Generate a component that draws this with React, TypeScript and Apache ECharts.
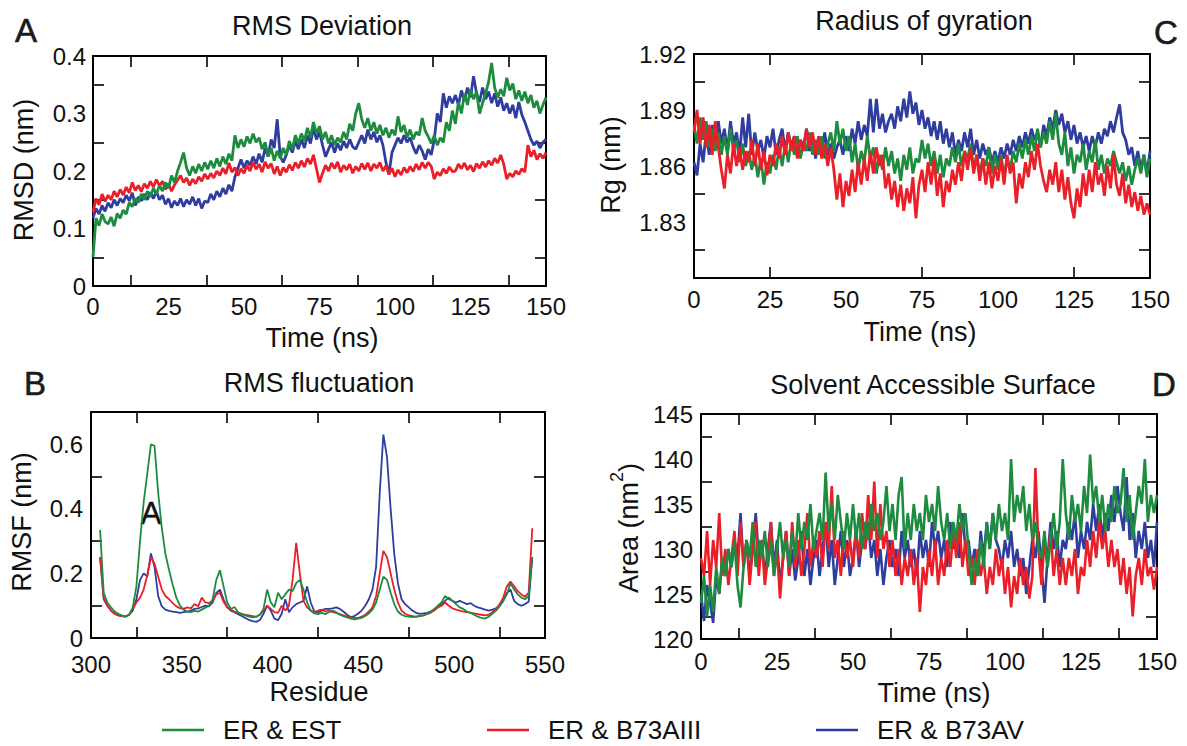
import React, { useEffect, useRef } from "react";
import * as echarts from "echarts";

const FONT = '"Liberation Sans", Arial, Helvetica, sans-serif';
const GREEN = "#1e8c3f";
const RED = "#ea1f27";
const BLUE = "#2e3d9e";
const NAME_EST = "ER & EST";
const NAME_AIII = "ER & B73AIII";
const NAME_AV = "ER & B73AV";

// sampling grids (1 ns frames; every 2nd residue)
const TIME_NS = Array.from({ length: 151 }, (_, i) => i);
const RESIDUES = Array.from({ length: 120 }, (_, i) => 305 + 2 * i);

// ---- A: RMS Deviation (nm)
const RMSD_EST = [
  0.050, 0.118, 0.105, 0.125, 0.112, 0.108, 0.120, 0.104, 0.126, 0.118,
  0.132, 0.125, 0.145, 0.138, 0.152, 0.145, 0.160, 0.150, 0.165, 0.155,
  0.170, 0.160, 0.175, 0.165, 0.180, 0.170, 0.192, 0.180, 0.200, 0.215,
  0.232, 0.205, 0.192, 0.208, 0.196, 0.212, 0.200, 0.215, 0.203, 0.218,
  0.205, 0.222, 0.208, 0.225, 0.212, 0.230, 0.218, 0.262, 0.240, 0.255,
  0.242, 0.260, 0.248, 0.265, 0.250, 0.258, 0.238, 0.250, 0.225, 0.240,
  0.218, 0.235, 0.222, 0.240, 0.228, 0.252, 0.238, 0.262, 0.248, 0.265,
  0.252, 0.275, 0.258, 0.285, 0.265, 0.278, 0.255, 0.268, 0.248, 0.262,
  0.245, 0.258, 0.250, 0.268, 0.255, 0.282, 0.270, 0.300, 0.318, 0.290,
  0.275, 0.292, 0.270, 0.285, 0.265, 0.280, 0.262, 0.275, 0.258, 0.272,
  0.262, 0.295, 0.268, 0.280, 0.258, 0.272, 0.255, 0.268, 0.262, 0.292,
  0.270, 0.260, 0.248, 0.262, 0.245, 0.258, 0.250, 0.285, 0.270, 0.305,
  0.282, 0.320, 0.300, 0.335, 0.315, 0.342, 0.325, 0.338, 0.300, 0.318,
  0.335, 0.355, 0.388, 0.345, 0.328, 0.342, 0.330, 0.362, 0.340, 0.352,
  0.325, 0.340, 0.322, 0.338, 0.318, 0.332, 0.310, 0.322, 0.300, 0.315,
  0.328,
];
const RMSD_AIII = [
  0.128, 0.152, 0.141, 0.160, 0.147, 0.158, 0.150, 0.165, 0.155, 0.168,
  0.158, 0.172, 0.162, 0.180, 0.166, 0.175, 0.164, 0.178, 0.170, 0.182,
  0.172, 0.185, 0.174, 0.182, 0.168, 0.178, 0.165, 0.176, 0.184, 0.192,
  0.180, 0.188, 0.175, 0.186, 0.178, 0.190, 0.182, 0.195, 0.186, 0.196,
  0.188, 0.200, 0.192, 0.205, 0.195, 0.214, 0.198, 0.206, 0.192, 0.204,
  0.196, 0.210, 0.200, 0.215, 0.203, 0.212, 0.198, 0.216, 0.205, 0.213,
  0.195, 0.208, 0.192, 0.206, 0.198, 0.211, 0.201, 0.215, 0.205, 0.218,
  0.207, 0.222, 0.212, 0.228, 0.204, 0.180, 0.196, 0.210, 0.200, 0.214,
  0.204, 0.216, 0.198, 0.210, 0.202, 0.212, 0.196, 0.208, 0.200, 0.213,
  0.203, 0.214, 0.200, 0.212, 0.205, 0.215, 0.200, 0.209, 0.194, 0.205,
  0.190, 0.202, 0.193, 0.206, 0.197, 0.208, 0.199, 0.212, 0.202, 0.215,
  0.205, 0.215, 0.208, 0.186, 0.198, 0.192, 0.204, 0.196, 0.207, 0.199,
  0.200, 0.212, 0.204, 0.214, 0.202, 0.210, 0.199, 0.213, 0.205, 0.216,
  0.207, 0.218, 0.210, 0.222, 0.214, 0.228, 0.212, 0.186, 0.196, 0.190,
  0.200, 0.194, 0.204, 0.198, 0.245, 0.225, 0.236, 0.220, 0.230, 0.222,
  0.232,
];
const RMSD_AV = [
  0.118, 0.135, 0.125, 0.140, 0.130, 0.145, 0.136, 0.150, 0.140, 0.152,
  0.145, 0.158, 0.148, 0.162, 0.140, 0.155, 0.148, 0.160, 0.150, 0.163,
  0.152, 0.165, 0.150, 0.158, 0.142, 0.152, 0.136, 0.148, 0.140, 0.152,
  0.138, 0.150, 0.142, 0.155, 0.140, 0.152, 0.135, 0.148, 0.145, 0.160,
  0.150, 0.165, 0.155, 0.170, 0.160, 0.176, 0.165, 0.190, 0.205, 0.220,
  0.205, 0.218, 0.210, 0.225, 0.212, 0.230, 0.215, 0.240, 0.225, 0.255,
  0.240, 0.290, 0.225, 0.215, 0.228, 0.245, 0.232, 0.252, 0.238, 0.255,
  0.240, 0.262, 0.248, 0.275, 0.255, 0.268, 0.245, 0.225, 0.238, 0.250,
  0.232, 0.248, 0.236, 0.252, 0.240, 0.255, 0.242, 0.238, 0.250, 0.262,
  0.248, 0.272, 0.255, 0.268, 0.250, 0.262, 0.245, 0.215, 0.195, 0.232,
  0.245, 0.258, 0.248, 0.262, 0.250, 0.258, 0.242, 0.230, 0.245, 0.235,
  0.220, 0.238, 0.228, 0.255, 0.300, 0.285, 0.335, 0.310, 0.330, 0.318,
  0.332, 0.315, 0.340, 0.322, 0.345, 0.328, 0.365, 0.335, 0.320, 0.345,
  0.325, 0.338, 0.318, 0.335, 0.312, 0.328, 0.305, 0.318, 0.300, 0.315,
  0.292, 0.320, 0.298, 0.285, 0.270, 0.255, 0.245, 0.252, 0.240, 0.250,
  0.255,
];

// ---- C: Radius of gyration (nm)
const RG_EST = [
  1.882, 1.872, 1.886, 1.874, 1.884, 1.870, 1.880, 1.868, 1.878, 1.866,
  1.876, 1.866, 1.880, 1.868, 1.874, 1.862, 1.872, 1.860, 1.868, 1.858,
  1.866, 1.854, 1.864, 1.850, 1.862, 1.856, 1.866, 1.858, 1.870, 1.860,
  1.872, 1.862, 1.874, 1.866, 1.876, 1.864, 1.872, 1.868, 1.878, 1.866,
  1.874, 1.866, 1.876, 1.864, 1.872, 1.878, 1.868, 1.884, 1.872, 1.880,
  1.868, 1.876, 1.862, 1.872, 1.858, 1.868, 1.862, 1.876, 1.864, 1.870,
  1.856, 1.866, 1.858, 1.870, 1.860, 1.868, 1.856, 1.864, 1.852, 1.866,
  1.858, 1.870, 1.856, 1.864, 1.862, 1.874, 1.864, 1.872, 1.860, 1.868,
  1.856, 1.866, 1.854, 1.864, 1.860, 1.870, 1.862, 1.872, 1.860, 1.868,
  1.864, 1.872, 1.858, 1.866, 1.856, 1.864, 1.860, 1.870, 1.856, 1.866,
  1.858, 1.866, 1.854, 1.864, 1.858, 1.868, 1.862, 1.872, 1.864, 1.874,
  1.866, 1.876, 1.868, 1.880, 1.870, 1.878, 1.872, 1.884, 1.874, 1.888,
  1.872, 1.866, 1.878, 1.860, 1.870, 1.856, 1.866, 1.862, 1.872, 1.858,
  1.868, 1.862, 1.874, 1.858, 1.866, 1.856, 1.864, 1.860, 1.868, 1.862,
  1.856, 1.862, 1.852, 1.860, 1.850, 1.858, 1.864, 1.856, 1.866, 1.854,
  1.864,
];
const RG_AIII = [
  1.878, 1.890, 1.872, 1.886, 1.870, 1.882, 1.866, 1.884, 1.870, 1.858,
  1.848, 1.866, 1.856, 1.872, 1.860, 1.870, 1.858, 1.868, 1.862, 1.874,
  1.860, 1.872, 1.858, 1.868, 1.855, 1.866, 1.860, 1.872, 1.864, 1.876,
  1.866, 1.878, 1.868, 1.876, 1.864, 1.874, 1.868, 1.880, 1.870, 1.878,
  1.866, 1.876, 1.864, 1.872, 1.860, 1.870, 1.858, 1.842, 1.856, 1.838,
  1.852, 1.844, 1.858, 1.846, 1.862, 1.850, 1.864, 1.852, 1.868, 1.856,
  1.870, 1.860, 1.866, 1.848, 1.856, 1.842, 1.852, 1.838, 1.850, 1.836,
  1.848, 1.840, 1.854, 1.832, 1.850, 1.858, 1.846, 1.862, 1.850, 1.864,
  1.844, 1.856, 1.838, 1.852, 1.846, 1.858, 1.850, 1.862, 1.852, 1.868,
  1.858, 1.870, 1.856, 1.866, 1.852, 1.864, 1.850, 1.862, 1.848, 1.860,
  1.852, 1.864, 1.850, 1.866, 1.856, 1.862, 1.840, 1.856, 1.848, 1.862,
  1.854, 1.868, 1.858, 1.872, 1.860, 1.852, 1.846, 1.858, 1.850, 1.862,
  1.846, 1.858, 1.842, 1.854, 1.840, 1.832, 1.848, 1.838, 1.856, 1.844,
  1.858, 1.846, 1.862, 1.850, 1.856, 1.844, 1.860, 1.848, 1.866, 1.850,
  1.844, 1.856, 1.840, 1.850, 1.838, 1.846, 1.836, 1.844, 1.834, 1.840,
  1.834,
];
const RG_AV = [
  1.862, 1.855, 1.872, 1.862, 1.878, 1.866, 1.882, 1.870, 1.884, 1.872,
  1.880, 1.868, 1.884, 1.872, 1.878, 1.866, 1.886, 1.870, 1.888, 1.866,
  1.878, 1.868, 1.874, 1.864, 1.876, 1.870, 1.880, 1.866, 1.874, 1.880,
  1.868, 1.878, 1.870, 1.876, 1.866, 1.874, 1.870, 1.880, 1.868, 1.876,
  1.864, 1.874, 1.868, 1.878, 1.866, 1.872, 1.864, 1.870, 1.874, 1.866,
  1.876, 1.868, 1.880, 1.872, 1.884, 1.874, 1.882, 1.876, 1.896, 1.878,
  1.896, 1.880, 1.888, 1.878, 1.884, 1.888, 1.880, 1.892, 1.884, 1.896,
  1.886, 1.900, 1.888, 1.894, 1.882, 1.890, 1.880, 1.886, 1.876, 1.884,
  1.874, 1.884, 1.872, 1.880, 1.870, 1.878, 1.866, 1.874, 1.868, 1.878,
  1.870, 1.880, 1.866, 1.874, 1.864, 1.872, 1.866, 1.870, 1.862, 1.868,
  1.862, 1.870, 1.864, 1.872, 1.866, 1.874, 1.868, 1.876, 1.870, 1.878,
  1.872, 1.880, 1.874, 1.878, 1.870, 1.882, 1.876, 1.886, 1.880, 1.890,
  1.882, 1.888, 1.878, 1.884, 1.874, 1.882, 1.872, 1.878, 1.870, 1.876,
  1.868, 1.876, 1.870, 1.878, 1.872, 1.880, 1.876, 1.884, 1.878, 1.886,
  1.893, 1.878, 1.874, 1.866, 1.870, 1.860, 1.868, 1.858, 1.866, 1.856,
  1.868,
];

// ---- B: RMS fluctuation (nm) per residue
const RMSF_EST = [
  0.335, 0.140, 0.110, 0.095, 0.082, 0.075, 0.070, 0.066, 0.072, 0.095,
  0.160, 0.300, 0.420, 0.510, 0.600, 0.595, 0.450, 0.340, 0.260, 0.210,
  0.165, 0.125, 0.100, 0.088, 0.082, 0.080, 0.084, 0.082, 0.088, 0.094,
  0.100, 0.120, 0.180, 0.210, 0.160, 0.110, 0.090, 0.096, 0.080, 0.074,
  0.070, 0.066, 0.064, 0.066, 0.072, 0.090, 0.150, 0.110, 0.095, 0.140,
  0.120, 0.135, 0.150, 0.145, 0.170, 0.180, 0.150, 0.110, 0.085, 0.076,
  0.074, 0.078, 0.074, 0.080, 0.085, 0.080, 0.072, 0.068, 0.064, 0.060,
  0.058, 0.060, 0.062, 0.068, 0.076, 0.088, 0.110, 0.150, 0.190, 0.180,
  0.140, 0.105, 0.082, 0.072, 0.068, 0.066, 0.065, 0.066, 0.068, 0.070,
  0.075, 0.080, 0.090, 0.100, 0.110, 0.130, 0.120, 0.115, 0.105, 0.095,
  0.090, 0.082, 0.078, 0.072, 0.066, 0.062, 0.060, 0.066, 0.075, 0.085,
  0.098, 0.115, 0.135, 0.170, 0.150, 0.135, 0.125, 0.120, 0.130, 0.250,
];
const RMSF_AIII = [
  0.250, 0.125, 0.100, 0.085, 0.075, 0.070, 0.068, 0.066, 0.072, 0.090,
  0.110, 0.125, 0.150, 0.195, 0.250, 0.230, 0.190, 0.150, 0.130, 0.120,
  0.108, 0.098, 0.092, 0.090, 0.095, 0.092, 0.105, 0.098, 0.125, 0.110,
  0.108, 0.115, 0.135, 0.140, 0.112, 0.095, 0.088, 0.082, 0.078, 0.075,
  0.072, 0.070, 0.068, 0.066, 0.072, 0.085, 0.100, 0.090, 0.080, 0.078,
  0.100, 0.085, 0.100, 0.180, 0.295, 0.200, 0.115, 0.095, 0.085, 0.080,
  0.085, 0.088, 0.082, 0.086, 0.080, 0.078, 0.074, 0.070, 0.066, 0.064,
  0.062, 0.062, 0.066, 0.072, 0.082, 0.095, 0.130, 0.200, 0.270, 0.250,
  0.200, 0.150, 0.110, 0.085, 0.075, 0.070, 0.068, 0.066, 0.068, 0.070,
  0.074, 0.078, 0.085, 0.095, 0.100, 0.110, 0.100, 0.092, 0.088, 0.085,
  0.082, 0.080, 0.078, 0.076, 0.074, 0.072, 0.070, 0.072, 0.080, 0.090,
  0.105, 0.125, 0.160, 0.175, 0.160, 0.145, 0.135, 0.128, 0.140, 0.340,
];
const RMSF_AV = [
  0.250, 0.120, 0.100, 0.085, 0.075, 0.070, 0.068, 0.067, 0.072, 0.085,
  0.120, 0.180, 0.200, 0.190, 0.262, 0.220, 0.130, 0.098, 0.088, 0.084,
  0.082, 0.080, 0.078, 0.080, 0.082, 0.085, 0.090, 0.092, 0.096, 0.100,
  0.098, 0.110, 0.140, 0.150, 0.120, 0.095, 0.085, 0.080, 0.074, 0.068,
  0.062, 0.056, 0.052, 0.050, 0.056, 0.075, 0.100, 0.085, 0.060, 0.055,
  0.075, 0.120, 0.080, 0.095, 0.105, 0.110, 0.115, 0.160, 0.110, 0.082,
  0.080, 0.085, 0.090, 0.090, 0.092, 0.095, 0.090, 0.082, 0.072, 0.065,
  0.068, 0.075, 0.085, 0.100, 0.120, 0.150, 0.220, 0.450, 0.630, 0.560,
  0.400, 0.260, 0.170, 0.120, 0.105, 0.095, 0.085, 0.078, 0.075, 0.076,
  0.078, 0.082, 0.088, 0.095, 0.105, 0.115, 0.125, 0.115, 0.110, 0.115,
  0.110, 0.105, 0.108, 0.100, 0.095, 0.092, 0.088, 0.085, 0.088, 0.092,
  0.100, 0.115, 0.140, 0.150, 0.115, 0.105, 0.100, 0.105, 0.112, 0.250,
];

// ---- D: Solvent accessible surface area (nm^2)
const SASA_EST = [
  124, 127, 122.5, 126, 123, 128, 125, 129, 127, 130,
  128, 131, 126, 123.5, 128, 131, 129, 133, 128, 131,
  129, 132, 128, 131, 127, 130, 133, 129, 131, 128,
  132, 129, 134, 130, 133, 131, 135, 130, 132, 134,
  131, 138.5, 132, 135, 131, 136, 133, 130, 134, 131,
  135, 131, 134, 130, 133, 131, 135, 132, 134, 131,
  133, 137, 132, 135, 131, 136, 138, 130, 134, 131,
  135, 132, 134, 131, 136, 133, 135, 132, 137, 133,
  131, 134, 130, 133, 131, 135, 132, 134, 130, 126,
  129, 127, 131, 128, 133, 130, 134, 131, 135, 132,
  134, 131, 140, 133, 136, 134, 137, 132, 135, 131,
  133, 130, 129, 132, 128, 131, 134, 130, 133, 140,
  134, 131, 136, 133, 135, 132, 137, 134, 140.5, 135,
  137, 133, 136, 132, 135, 133, 137, 134, 135, 139,
  133, 136, 131, 134, 137, 135, 140, 133, 136, 134,
  136,
];
const SASA_AIII = [
  129, 127, 132, 126, 131, 128, 134, 127, 130, 126,
  129, 132, 127, 133, 128, 131, 126, 130, 133, 127,
  131, 126, 129, 133, 127, 130, 124.5, 129, 132, 127,
  133, 128, 131, 127, 130, 134, 128, 131, 129, 132,
  128, 133, 130, 137, 129, 131, 127, 132, 129, 131,
  128, 132, 129, 134, 130, 136, 131, 137.5, 129, 135,
  130, 132, 128, 131, 127, 130, 126, 129, 127, 130,
  126, 129, 123, 128, 126, 130, 127, 131, 126, 129,
  127, 131, 128, 132, 129, 133, 128, 131, 127, 129,
  126, 130, 127, 129, 125, 128, 126, 130, 127, 129,
  125, 128, 123.5, 127, 125, 129, 126, 128, 124.5, 127,
  139, 130, 126, 131, 128, 132, 127, 130, 126, 129,
  126, 129, 127, 130, 125, 128, 127, 131, 128, 132,
  129, 133, 130, 132, 128, 131, 128, 130, 126, 129,
  125, 128, 122.5, 127, 129, 126, 130, 127, 128, 125.5,
  128,
];
const SASA_AV = [
  125, 122, 126, 124, 121.8, 127, 125, 129, 127, 130,
  128, 131, 129, 134, 128, 131, 127, 130, 134, 129,
  131, 127, 130, 133, 128, 131, 126, 129, 132, 127,
  130, 126.5, 129, 132, 127, 130, 126, 129, 131, 127,
  130, 133, 128, 131, 126, 129, 132, 128, 131, 127,
  129, 132, 128, 131, 130, 133, 129, 131, 127, 130,
  126, 129, 131, 128, 130, 127, 132, 129, 131, 128,
  130, 127, 132, 129, 131, 128, 133, 130, 132, 129,
  131, 128, 133, 130, 132, 129, 134, 130, 131, 128,
  130, 127, 132, 129, 133, 130, 134, 131, 130, 128,
  131, 129, 132, 128, 130, 127, 129, 125, 128, 131,
  129, 132, 128, 124, 129, 133, 130, 132, 128, 131,
  130, 133, 131, 134, 129, 132, 130, 133, 131, 135,
  132, 135, 131, 134, 132, 136, 133, 137, 134, 132,
  138, 131, 134, 129, 132, 130, 133, 129, 131, 128,
  133,
];

// ---- axis labels / ticks
const A_X_LABELS = [0, 25, 50, 75, 100, 125, 150];
const A_X_TICKS = [12.5, 37.5, 62.5, 87.5, 112.5, 137.5];
const A_Y_LABELS = [0, 0.1, 0.2, 0.3, 0.4];
const A_Y_TICKS = [0.05, 0.15, 0.25, 0.35];
const C_X_TICKS = [25, 75, 125];
const C_Y_LABELS = [1.83, 1.86, 1.89, 1.92];
const C_Y_TICKS = [1.815, 1.845, 1.875, 1.905];
const B_X_LABELS = [300, 350, 400, 450, 500, 550];
const B_X_TICKS = [325, 375, 425, 475, 525];
const B_Y_LABELS = [0, 0.2, 0.4, 0.6];
const B_Y_TICKS = [0.1, 0.3, 0.5];
const D_Y_LABELS = [120, 125, 130, 135, 140, 145];
const D_Y_TICKS = [122.5, 127.5, 132.5, 137.5, 142.5];

const pair = (xs: number[], ys: number[]) => ys.map((v, i) => [xs[i], v]);

function axisPair(kind: "x" | "y", grid: number, min: number, max: number, labels: number[], ticks: number[], fmt?: (v: number) => string, margin = 8, pad?: number[]) {
  const line = { show: true, onZero: false, lineStyle: { color: "#000", width: 2 } };
  const tick = { show: true, inside: true, length: 11, customValues: ticks, lineStyle: { color: "#000", width: 1.6 } };
  const base = { type: "value", gridIndex: grid, min, max, splitLine: { show: false }, axisLine: line, axisTick: tick };
  const main = {
    ...base,
    position: kind === "x" ? "bottom" : "left",
    axisLabel: {
      show: true, customValues: labels, margin, fontSize: 24, fontFamily: FONT, color: "#111",
      padding: pad || 0,
      formatter: fmt ? (v: number) => fmt(v) : (v: number) => String(v),
    },
  };
  const mirror = { ...base, position: kind === "x" ? "top" : "right", axisLabel: { show: false } };
  return [main, mirror];
}

function lines(grid: number, xs: number[], est: number[], aiii: number[], av: number[], order: string[], width: number) {
  const map: Record<string, any> = {
    av: { name: NAME_AV, data: pair(xs, av), color: BLUE },
    aiii: { name: NAME_AIII, data: pair(xs, aiii), color: RED },
    est: { name: NAME_EST, data: pair(xs, est), color: GREEN },
  };
  return order.map((k) => ({
    type: "line", name: map[k].name, xAxisIndex: grid * 2, yAxisIndex: grid * 2,
    data: map[k].data, symbol: "none", showSymbol: false, silent: true,
    lineStyle: { width, color: map[k].color }, itemStyle: { color: map[k].color },
  }));
}

const txt = (x: number, y: number, text: string, size: number, extra: any = {}) => ({
  type: "text", x, y, silent: true, ...extra,
  style: {
    text, font: `${size}px ${FONT}`, fill: "#111",
    textAlign: "center", textVerticalAlign: "middle", align: "center", verticalAlign: "middle",
    ...(extra.style || {}),
  },
});

const letter = (x: number, y: number, t: string) =>
  txt(x, y, t, 33, { style: { fill: "#1a1a1a", stroke: "#1a1a1a", lineWidth: 0.6, shadowBlur: 5, shadowColor: "rgba(0,0,0,0.35)", shadowOffsetY: 3 } });

export default function App() {
  const ref = useRef<HTMLDivElement>(null);
  useEffect(() => {
    if (!ref.current) return;
    const chart = echarts.init(ref.current, undefined, { renderer: "svg" });
    const legend = (name: string, left: number) => ({
      data: [name], left, top: 717, padding: 0, icon: "rect", itemWidth: 42, itemHeight: 2.5, selectedMode: false,
      textStyle: { fontSize: 26, lineHeight: 26, fontFamily: FONT, color: "#111", padding: [0, 0, 0, 14] },
    });
    const [ax, axT] = axisPair("x", 0, 0, 150, A_X_LABELS, A_X_TICKS);
    const [ay, ayR] = axisPair("y", 0, 0, 0.4, A_Y_LABELS, A_Y_TICKS, undefined, 7);
    const [cx, cxT] = axisPair("x", 1, 0, 150, A_X_LABELS, C_X_TICKS, undefined, 9);
    const [cy, cyR] = axisPair("y", 1, 1.8, 1.92, C_Y_LABELS, C_Y_TICKS, (v) => v.toFixed(2), 8);
    const [bx, bxT] = axisPair("x", 2, 300, 550, B_X_LABELS, B_X_TICKS, undefined, 14);
    const [by, byR] = axisPair("y", 2, 0, 0.7, B_Y_LABELS, B_Y_TICKS, undefined, 8, [0, 0, 5, 0]);
    const [dx, dxT] = axisPair("x", 3, 0, 150, A_X_LABELS, A_X_TICKS, undefined, 10);
    const [dy, dyR] = axisPair("y", 3, 120, 145, D_Y_LABELS, D_Y_TICKS, undefined, 8);
    chart.setOption({
      animation: false,
      backgroundColor: "#fff",
      textStyle: { fontFamily: FONT },
      legend: [legend(NAME_EST, 162), legend(NAME_AIII, 487), legend(NAME_AV, 816)],
      grid: [
        { left: 93, top: 56, width: 453, height: 230 },
        { left: 694, top: 54, width: 456, height: 224 },
        { left: 91, top: 412, width: 454, height: 226 },
        { left: 701, top: 414, width: 456, height: 225 },
      ],
      xAxis: [ax, axT, cx, cxT, bx, bxT, dx, dxT],
      yAxis: [ay, ayR, cy, cyR, by, byR, dy, dyR],
      series: [
        ...lines(0, TIME_NS, RMSD_EST, RMSD_AIII, RMSD_AV, ["av", "aiii", "est"], 2.8),
        ...lines(1, TIME_NS, RG_EST, RG_AIII, RG_AV, ["av", "est", "aiii"], 2.8),
        ...lines(2, RESIDUES, RMSF_EST, RMSF_AIII, RMSF_AV, ["av", "aiii", "est"], 1.8),
        ...lines(3, TIME_NS, SASA_EST, SASA_AIII, SASA_AV, ["av", "aiii", "est"], 2.6),
      ],
      graphic: [
        letter(26, 30, "A"), letter(1166, 32, "C"), letter(35, 383, "B"), letter(1164, 384, "D"),
        txt(322, 26, "RMS Deviation", 27),
        txt(924, 21, "Radius of gyration", 27),
        txt(319, 383, "RMS fluctuation", 27),
        txt(933, 385, "Solvent Accessible Surface", 27),
        txt(322, 338, "Time (ns)", 27),
        txt(920, 332, "Time (ns)", 27),
        txt(319, 692, "Residue", 27),
        txt(934, 693, "Time (ns)", 27),
        txt(24, 170, "RMSD (nm)", 27, { rotation: Math.PI / 2 }),
        txt(611, 165, "Rg (nm)", 27, { rotation: Math.PI / 2 }),
        txt(22, 522, "RMSF (nm)", 27, { rotation: Math.PI / 2 }),
        {
          type: "text", x: 625, y: 528, rotation: Math.PI / 2, silent: true,
          style: {
            text: "{n|Area (nm}{s|2}{n|)}", fill: "#111",
            textAlign: "center", textVerticalAlign: "middle", align: "center", verticalAlign: "middle",
            rich: {
              n: { fontSize: 27, fontFamily: FONT, color: "#111", lineHeight: 34, verticalAlign: "bottom" },
              s: { fontSize: 18, fontFamily: FONT, color: "#111", lineHeight: 34, verticalAlign: "top" },
            },
          },
        },
        txt(151, 513, "A", 31, { style: { stroke: "#111", lineWidth: 0.5 } }),
      ],
    });
    return () => chart.dispose();
  }, []);
  return (
    <div
      ref={ref}
      style={{ position: "fixed", left: 0, top: 0, width: 1187, height: 746, background: "#fff" }}
    />
  );
}
